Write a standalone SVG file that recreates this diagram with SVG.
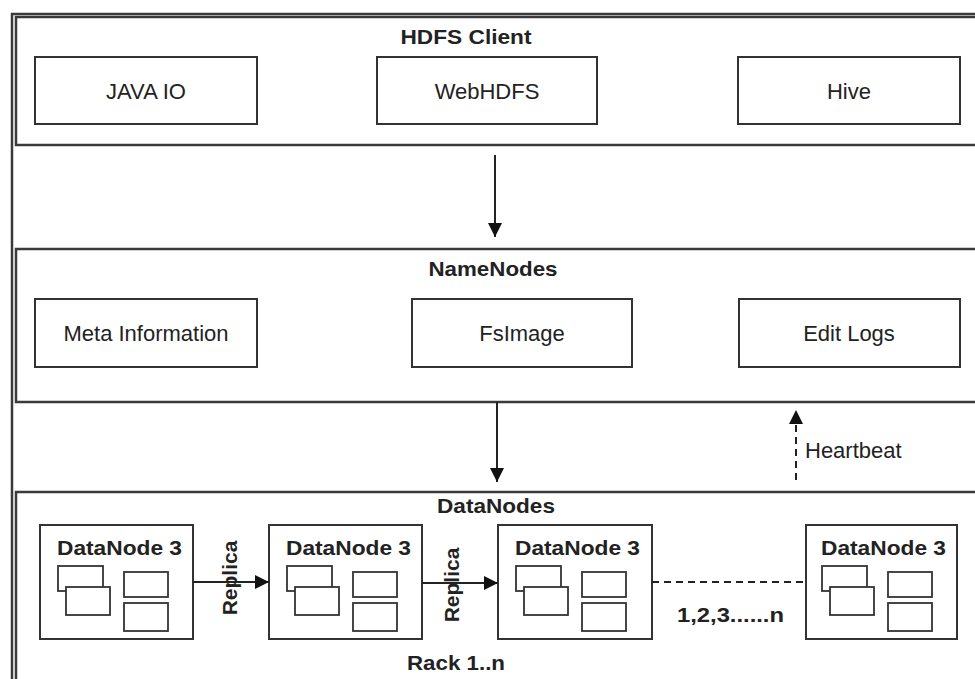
<svg xmlns="http://www.w3.org/2000/svg" xmlns:xlink="http://www.w3.org/1999/xlink" width="975" height="679" viewBox="0 0 975 679">
<style>
.frame{fill:none;stroke:#3a3a3a;stroke-width:2.5}
.sec{fill:#fff;stroke:#3a3a3a;stroke-width:2.5}
.box{fill:#fff;stroke:#333;stroke-width:2}
.sm{fill:#fff;stroke:#333;stroke-width:1.8}
.t{font-family:"Liberation Sans",Arial,sans-serif;font-size:22px;fill:#222}
.b{font-family:"Liberation Sans",Arial,sans-serif;font-size:21px;font-weight:bold;fill:#222}
.c{text-anchor:middle}
.ln{stroke:#222;stroke-width:2;fill:none}
.dash{stroke:#222;stroke-width:2;fill:none;stroke-dasharray:7,5}
</style>
<defs>
<marker id="ah" viewBox="0 0 10 10" refX="10" refY="5" markerUnits="userSpaceOnUse" markerWidth="19" markerHeight="14" orient="auto">
<path d="M0,0 L10,5 L0,10 z" fill="#111"/>
</marker>
<g id="dn-inner">
<rect class="sm" x="18" y="41" width="45" height="25"/>
<rect class="sm" x="26" y="62" width="44" height="28"/>
<rect class="sm" x="84" y="47" width="44" height="25"/>
<rect class="sm" x="84" y="78" width="44" height="28"/>
</g>
</defs>
<rect width="975" height="679" fill="#fff"/>
<rect class="frame" x="12" y="14" width="990" height="700"/>

<g id="hdfs-client">
<rect class="sec" x="16" y="17" width="990" height="128"/>
<text class="b c" x="466" y="44" textLength="131" lengthAdjust="spacingAndGlyphs">HDFS Client</text>
</g>
<g id="java-io">
<rect class="box" x="35" y="57" width="222" height="67"/>
<text class="t c" x="146" y="99">JAVA IO</text>
</g>
<g id="webhdfs">
<rect class="box" x="377" y="57" width="220" height="67"/>
<text class="t c" x="487" y="99">WebHDFS</text>
</g>
<g id="hive">
<rect class="box" x="738" y="57" width="222" height="67"/>
<text class="t c" x="849" y="99">Hive</text>
</g>

<g id="namenodes">
<rect class="sec" x="16" y="249" width="990" height="153"/>
<text class="b c" x="493" y="276" textLength="129" lengthAdjust="spacingAndGlyphs">NameNodes</text>
</g>
<g id="meta-information">
<rect class="box" x="35" y="299" width="222" height="68"/>
<text class="t c" x="146" y="341">Meta Information</text>
</g>
<g id="fsimage">
<rect class="box" x="412" y="299" width="220" height="68"/>
<text class="t c" x="522" y="341">FsImage</text>
</g>
<g id="edit-logs">
<rect class="box" x="739" y="299" width="221" height="68"/>
<text class="t c" x="849" y="341">Edit Logs</text>
</g>

<g id="datanodes">
<rect class="sec" x="16" y="492" width="990" height="220"/>
<text class="b c" x="496" y="513" textLength="118" lengthAdjust="spacingAndGlyphs">DataNodes</text>
<text class="b" x="407" y="670" textLength="98" lengthAdjust="spacingAndGlyphs">Rack 1..n</text>
</g>
<g id="datanode-1">
<rect class="box" x="40" y="525" width="153" height="114"/>
<text class="b" x="57" y="555" textLength="125" lengthAdjust="spacingAndGlyphs">DataNode 3</text>
<use xlink:href="#dn-inner" href="#dn-inner" x="40" y="525"/>
</g>
<g id="datanode-2">
<rect class="box" x="269" y="525" width="153" height="114"/>
<text class="b" x="286" y="555" textLength="125" lengthAdjust="spacingAndGlyphs">DataNode 3</text>
<use xlink:href="#dn-inner" href="#dn-inner" x="269" y="525"/>
</g>
<g id="datanode-3">
<rect class="box" x="498" y="525" width="154" height="114"/>
<text class="b" x="515" y="555" textLength="125" lengthAdjust="spacingAndGlyphs">DataNode 3</text>
<use xlink:href="#dn-inner" href="#dn-inner" x="498" y="525"/>
</g>
<g id="datanode-4">
<rect class="box" x="806" y="525" width="151" height="114"/>
<text class="b" x="821" y="555" textLength="125" lengthAdjust="spacingAndGlyphs">DataNode 3</text>
<use xlink:href="#dn-inner" href="#dn-inner" x="804" y="525"/>
</g>

<g id="connectors">
<line class="ln" x1="495" y1="155" x2="495" y2="237" marker-end="url(#ah)"/>
<line class="ln" x1="497" y1="402" x2="497" y2="482" marker-end="url(#ah)"/>
<line class="dash" x1="796" y1="480" x2="796" y2="410" marker-end="url(#ah)"/>
<text class="t" x="805" y="458">Heartbeat</text>
<line class="ln" x1="193" y1="582" x2="269" y2="582" marker-end="url(#ah)"/>
<text class="b c" transform="translate(237,578) rotate(-90)" x="0" y="0">Replica</text>
<line class="ln" x1="422" y1="583" x2="498" y2="583" marker-end="url(#ah)"/>
<text class="b c" transform="translate(459,585) rotate(-90)" x="0" y="0">Replica</text>
<line class="dash" x1="652" y1="582" x2="806" y2="582"/>
<text class="b" x="677" y="622" textLength="107" lengthAdjust="spacingAndGlyphs">1,2,3......n</text>
</g>
</svg>
